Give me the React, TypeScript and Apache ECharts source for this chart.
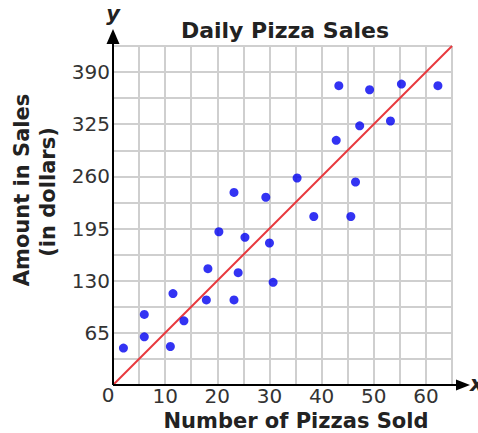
import React, { useEffect, useRef } from "react";
import * as echarts from "echarts";

const pizzasSold = [2, 6, 6, 11, 11.5, 13.6, 18.2, 17.9, 23.2, 24, 30.7, 20.3, 25.3, 30, 23.2, 29.3, 35.3, 38.5, 45.6, 46.5, 42.8, 47.3, 53.2, 43.3, 49.2, 55.3, 62.3];
const salesAmount = [46, 60, 88, 48, 114, 80, 145, 106, 106, 140, 128, 191, 184, 177, 240, 234, 258, 210, 210, 253, 305, 323, 329, 373, 368, 375, 373];
const trendX = [0, 65];
const trendY = [0, 422.5];
const xTickLabels = [10, 20, 30, 40, 50, 60];
const yTickLabels = [65, 130, 195, 260, 325, 390];

const GL = 113, GT = 46, GW = 339, GH = 339;

export default function App() {
  const ref = useRef<HTMLDivElement>(null);
  useEffect(() => {
    if (!ref.current) return;
    const chart = echarts.init(ref.current, undefined, { renderer: "svg" });
    const font = "'DejaVu Sans', Verdana, sans-serif";
    const x0 = GL, y0 = GT + GH;
    chart.setOption({
      animation: false,
      grid: { left: GL, top: GT, width: GW, height: GH, containLabel: false },
      title: {
        text: "Daily Pizza Sales",
        left: 280, top: 14, textAlign: "center",
        textStyle: { fontFamily: font, fontSize: 22, fontWeight: "bold", color: "#222" },
      },
      xAxis: {
        type: "value", min: 0, max: 65, interval: 5,
        axisLine: { show: false }, axisTick: { show: false },
        splitLine: { show: true, lineStyle: { color: "#cfcfcf", width: 2 } },
        axisLabel: {
          margin: 1, fontFamily: font, fontSize: 20, color: "#333",
          formatter: (v: number) => (xTickLabels.includes(v) ? String(v) : ""),
        },
      },
      yAxis: {
        type: "value", min: 0, max: 422.5, interval: 32.5,
        axisLine: { show: false }, axisTick: { show: false },
        splitLine: { show: true, lineStyle: { color: "#cfcfcf", width: 2 } },
        axisLabel: {
          margin: 3, fontFamily: font, fontSize: 20, color: "#333",
          formatter: (v: number) => (yTickLabels.includes(v) ? String(v) : ""),
        },
      },
      series: [
        {
          type: "line", data: trendX.map((x, i) => [x, trendY[i]]),
          symbol: "none", lineStyle: { color: "#e8383d", width: 2 }, z: 3,
        },
        {
          type: "scatter", data: pizzasSold.map((x, i) => [x, salesAmount[i]]),
          symbolSize: 9, itemStyle: { color: "#0000f0" }, z: 4,
        },
      ],
      graphic: [
        { type: "line", shape: { x1: x0, y1: y0, x2: x0, y2: 43 }, style: { stroke: "#000", lineWidth: 2 }, z: 10 },
        { type: "polygon", shape: { points: [[x0 - 6.5, 44], [x0 + 6.5, 44], [x0, 29]] }, style: { fill: "#000" }, z: 10 },
        { type: "line", shape: { x1: x0, y1: y0, x2: 457, y2: y0 }, style: { stroke: "#000", lineWidth: 2 }, z: 10 },
        { type: "polygon", shape: { points: [[456, y0 - 5.5], [456, y0 + 5.5], [470, y0]] }, style: { fill: "#000" }, z: 10 },
        { type: "text", x: 113, y: 14, style: { text: "y", font: `italic bold 21px ${font}`, fill: "#222", align: "center", verticalAlign: "middle" }, z: 10 },
        { type: "text", x: 470, y: y0 - 1, style: { text: "x", font: `italic bold 21px ${font}`, fill: "#222", align: "left", verticalAlign: "middle" }, z: 10 },
        { type: "text", x: 108, y: 395, style: { text: "0", font: `20px ${font}`, fill: "#333", align: "center", verticalAlign: "middle" }, z: 10 },
        { type: "text", x: 296, y: 421, style: { text: "Number of Pizzas Sold", font: `bold 21px ${font}`, fill: "#222", align: "center", verticalAlign: "middle" }, z: 10 },
        { type: "text", x: 22, y: 190, rotation: Math.PI / 2, style: { text: "Amount in Sales", font: `bold 21px ${font}`, fill: "#222", align: "center", verticalAlign: "middle" }, z: 10 },
        { type: "text", x: 48, y: 192, rotation: Math.PI / 2, style: { text: "(in dollars)", font: `bold 21px ${font}`, fill: "#222", align: "center", verticalAlign: "middle" }, z: 10 },
      ],
    });
    return () => chart.dispose();
  }, []);
  return <div ref={ref} style={{ width: 478, height: 433, position: "absolute", left: 0, top: 0, background: "#fff" }} />;
}
